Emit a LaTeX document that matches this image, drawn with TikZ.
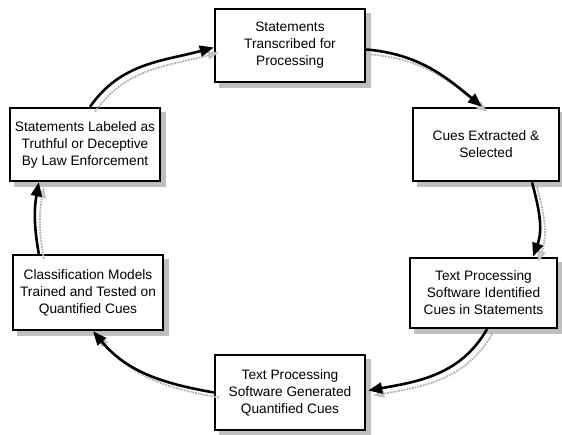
\documentclass[tikz,border=0pt]{standalone}
\usepackage{fontspec}
\setmainfont{Liberation Sans}
\usetikzlibrary{arrows.meta,calc,backgrounds}
\begin{document}
\begin{tikzpicture}[x=1pt,y=1pt,
  box/.style={draw, line width=2.4pt, fill=white, align=center,
    inner sep=2pt,
    font=\fontsize{13.7}{17}\selectfont},
  boxshadow/.style={fill=gray!50},
  flow/.style={line width=2.6pt, -{Triangle[length=14pt,width=11pt]}},
  flowshadow/.style={draw=gray!60, line width=1.8pt, densely dotted,
    -{Triangle[length=11pt,width=8pt,fill=gray!35,color=gray!50]},
    transform canvas={shift={(5pt,-5pt)}}}]
\useasboundingbox (0,0) rectangle (562,435);

\node[box, minimum width=150pt, minimum height=73pt] (b1) at (290,389.5)
  {Statements\\Transcribed for\\Processing};
\node[box, minimum width=146pt, minimum height=73pt] (b2) at (486,290.5)
  {Cues Extracted \&\\Selected};
\node[box, minimum width=147pt, minimum height=70pt] (b6) at (483.5,142)
  {Text Processing\\Software Identified\\Cues in Statements};
\node[box, minimum width=150pt, minimum height=75pt] (b5) at (290,42.5)
  {Text Processing\\Software Generated\\Quantified Cues};
\node[box, minimum width=150pt, minimum height=75pt] (b4) at (88,142.5)
  {Classification Models\\Trained and Tested on\\Quantified Cues};
\node[box, minimum width=150pt, minimum height=73pt] (b3) at (85,290.5)
  {Statements Labeled as\\Truthful or Deceptive\\By Law Enforcement};

\begin{scope}[on background layer]
  \foreach \b in {b1,b2,b3,b4,b5,b6}
    \fill[boxshadow] ($(\b.south west)+(5,-5)$) rectangle ($(\b.north east)+(5,-5)$);
\end{scope}

% shadows of the connectors
\draw[flowshadow] ($(b1.east)+(0,-4)$) to[out=-5,in=140] ($(b2.north)+(-4,0)$);
\draw[flowshadow] ($(b2.south)+(46,0)$) to[out=-75,in=70] ($(b6.north)+(49.5,0)$);
\draw[flowshadow] ($(b6.south)+(3.5,0)$) to[out=-120,in=10] ($(b5.east)+(2,2)$);
\draw[flowshadow] (b5.west) to[out=170,in=-50] ($(b4.south)+(5,0)$);
\draw[flowshadow] ($(b4.north west)+(27,0)$) to[out=100,in=-100] ($(b3.south west)+(30,0)$);
\draw[flowshadow] ($(b3.north)+(5,0)$) to[out=55,in=195] ($(b1.west)+(0,-2)$);

% connectors
\draw[flow] ($(b1.east)+(0,-4)$) to[out=-5,in=140] ($(b2.north)+(-4,0)$);
\draw[flow] ($(b2.south)+(46,0)$) to[out=-75,in=70] ($(b6.north)+(49.5,0)$);
\draw[flow] ($(b6.south)+(3.5,0)$) to[out=-120,in=10] ($(b5.east)+(2,2)$);
\draw[flow] (b5.west) to[out=170,in=-50] ($(b4.south)+(5,0)$);
\draw[flow] ($(b4.north west)+(27,0)$) to[out=100,in=-100] ($(b3.south west)+(30,0)$);
\draw[flow] ($(b3.north)+(5,0)$) to[out=55,in=195] ($(b1.west)+(0,-2)$);
\end{tikzpicture}
\end{document}
